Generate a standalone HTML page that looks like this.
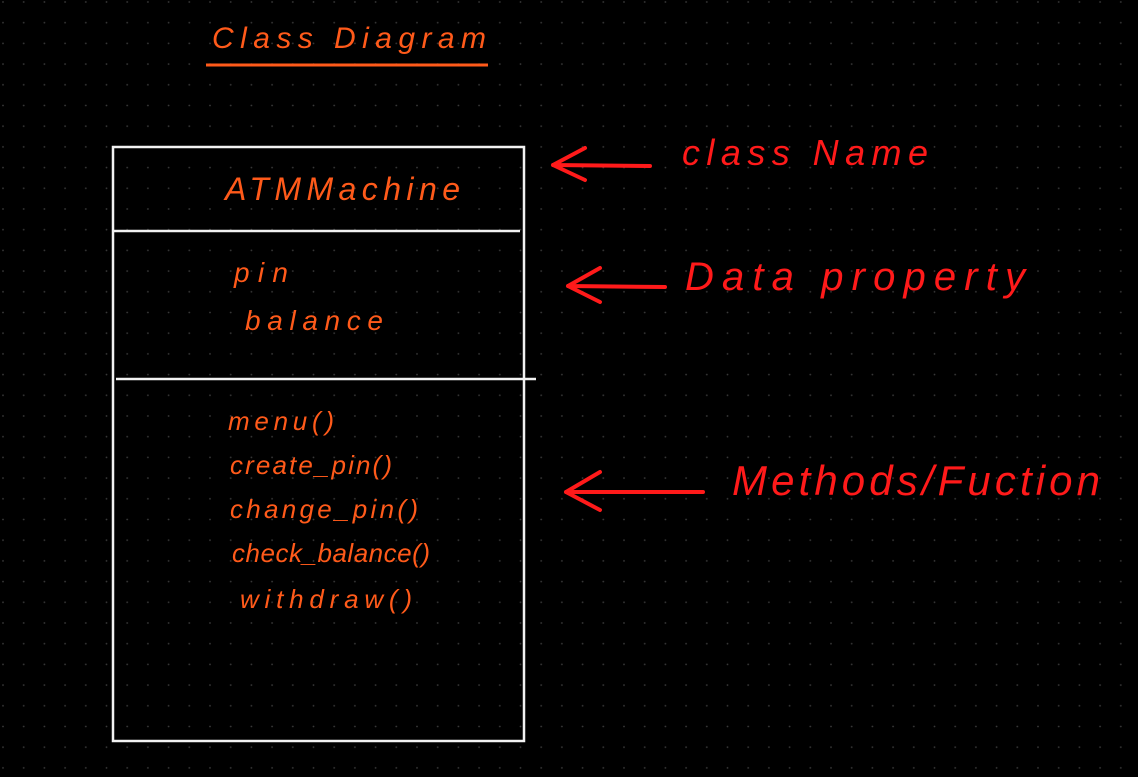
<!DOCTYPE html>
<html><head><style>
html,body{margin:0;padding:0;background:#000;}
svg{display:block}
text{font-family:"Liberation Sans",sans-serif;}
</style></head><body>
<svg width="1138" height="777" viewBox="0 0 1138 777" xmlns="http://www.w3.org/2000/svg">
<defs>
<pattern id="d" x="2" y="1" width="20.7" height="20.7" patternUnits="userSpaceOnUse">
<circle cx="1" cy="1" r="0.9" fill="#3a3a3a"/>
</pattern>
</defs>
<rect width="1138" height="777" fill="#000"/>
<rect width="1138" height="777" fill="url(#d)"/>
<g fill="#ff5a1a" font-style="italic">
<text x="212" y="48" font-size="30" textLength="274" lengthAdjust="spacing">Class Diagram</text>
</g>
<line x1="206" y1="65" x2="488" y2="65" stroke="#ff5a1a" stroke-width="3"/>
<g stroke="#f2f2f2" stroke-width="2.5" fill="none">
<rect x="113" y="147" width="411" height="594"/>
<line x1="113" y1="231" x2="520" y2="231"/>
<line x1="116" y1="379" x2="536" y2="379"/>
</g>
<g fill="#ff5a1a" font-style="italic">
<text x="225" y="200" font-size="32" textLength="235" lengthAdjust="spacing">ATMMachine</text>
<text x="234" y="282" font-size="28" textLength="54" lengthAdjust="spacing">pin</text>
<text x="245" y="330" font-size="28" textLength="138" lengthAdjust="spacing">balance</text>
<text x="228" y="430" font-size="26" textLength="106" lengthAdjust="spacing">menu()</text>
<text x="230" y="474" font-size="26" textLength="162" lengthAdjust="spacing">create_pin()</text>
<text x="230" y="518" font-size="26" textLength="188" lengthAdjust="spacing">change_pin()</text>
<text x="232" y="562" font-size="26" textLength="198" lengthAdjust="spacing">check_balance()</text>
<text x="240" y="608" font-size="26" textLength="172" lengthAdjust="spacing">withdraw()</text>
</g>
<g stroke="#ff1a1a" stroke-width="4" fill="none" stroke-linecap="round">
<path d="M553 165 L650 166 M553 165 L585 148 M553 165 L585 180"/>
<path d="M568 286 L665 287 M568 286 L600 268 M568 286 L600 302"/>
<path d="M566 492 L703 492 M566 492 L600 472 M566 492 L600 510"/>
</g>
<g fill="#ff1a1a" font-style="italic">
<text x="682" y="165" font-size="36" textLength="246" lengthAdjust="spacing">class Name</text>
<text x="685" y="290" font-size="40" textLength="340" lengthAdjust="spacing">Data property</text>
<text x="732" y="495" font-size="42" textLength="368" lengthAdjust="spacing">Methods/Fuction</text>
</g>
</svg>
</body></html>
